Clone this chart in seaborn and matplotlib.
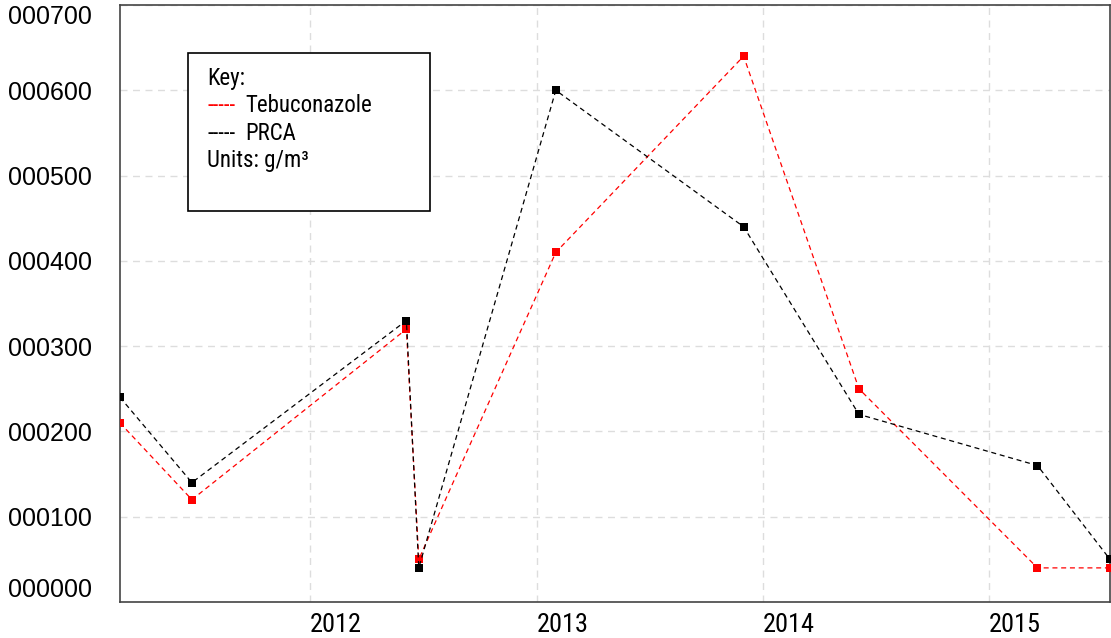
import matplotlib
matplotlib.use("Agg")
import matplotlib.pyplot as plt
import matplotlib.transforms as mtransforms
import seaborn as sns
import pandas as pd
from matplotlib import font_manager
from matplotlib.font_manager import FontProperties
from matplotlib.patches import Rectangle

dates = ["2011-03-01", "2011-06-25", "2012-06-05", "2012-06-25", "2013-02-01",
         "2013-12-01", "2014-06-05", "2015-03-20", "2015-07-15"]
tebuconazole = [210, 120, 320, 50, 410, 640, 250, 40, 40]
prca = [240, 140, 330, 40, 600, 440, 220, 160, 50]
y_ticks = [0, 100, 200, 300, 400, 500, 600, 700]
y_labels = ["000000", "000100", "000200", "000300", "000400", "000500", "000600", "000700"]
x_ticks = ["2012-01-01", "2013-01-01", "2014-01-01", "2015-01-01"]
x_labels = ["2012", "2013", "2014", "2015"]

# look for a narrow sans font (the reference uses an Arial-Narrow-like face)
narrow_fp = None
preferred = ["Liberation Sans Narrow", "Arial Narrow", "Roboto Condensed", "Open Sans Condensed",
             "DejaVu Sans Condensed", "Noto Sans Condensed"]
flist = font_manager.fontManager.ttflist
for p in preferred:
    for f in flist:
        if f.name == p and f.weight in (400, "normal", "regular") and f.style == "normal":
            narrow_fp = f.fname
            break
    if narrow_fp:
        break
if narrow_fp is None:
    for f in flist:
        if str(f.stretch) in ("condensed", "semi-condensed") and f.style == "normal" \
                and f.weight in (400, "normal") and "Mono" not in f.name and "Serif" not in f.name:
            narrow_fp = f.fname
            break

def nfont(size):
    if narrow_fp:
        return FontProperties(fname=narrow_fp, size=size)
    return FontProperties(family=["Liberation Sans", "DejaVu Sans"], size=size * 0.85)

sns.set_style("white")
plt.rcParams["font.family"] = ["Liberation Sans", "DejaVu Sans"]
plt.rcParams["text.color"] = "black"
plt.rcParams["xtick.color"] = "black"
plt.rcParams["ytick.color"] = "black"

df = pd.DataFrame({"date": pd.to_datetime(dates), "Tebuconazole": tebuconazole, "PRCA": prca})

fig = plt.figure(figsize=(11.11, 6.38), dpi=100)
ax = fig.add_axes([120 / 1111, 1 - 602 / 638, 990 / 1111, 597 / 638])

sns.lineplot(data=df, x="date", y="Tebuconazole", ax=ax, color="red", linestyle=(0, (4, 3)),
             linewidth=0.9, marker="s", markersize=6, markeredgewidth=0, zorder=3)
sns.lineplot(data=df, x="date", y="PRCA", ax=ax, color="black", linestyle=(0, (4, 3)),
             linewidth=0.9, marker="s", markersize=6, markeredgewidth=0, zorder=4)

ax.set_xlim(df["date"].iloc[0], df["date"].iloc[-1])
ax.set_ylim(0, 700)
ax.set_xlabel("")
ax.set_ylabel("")

ax.set_yticks(y_ticks)
ax.set_yticklabels(y_labels, fontsize=18, color="black")
ax.set_xticks(pd.to_datetime(x_ticks))
ax.set_xticklabels(x_labels, color="black")
for t in ax.get_xticklabels():
    t.set_fontproperties(nfont(19))
    t.set_ha("left")
    t.set_transform(t.get_transform() + mtransforms.ScaledTranslation(-13 / 100, 0, fig.dpi_scale_trans))
ytl = ax.get_yticklabels()
ytl[0].set_va("bottom")
ytl[0].set_transform(ytl[0].get_transform() + mtransforms.ScaledTranslation(0, 4 / 100, fig.dpi_scale_trans))
ytl[-1].set_va("top")
ytl[-1].set_transform(ytl[-1].get_transform() + mtransforms.ScaledTranslation(0, -3 / 100, fig.dpi_scale_trans))
ax.tick_params(axis="both", length=0)
ax.tick_params(axis="y", pad=20)
ax.tick_params(axis="x", pad=8)

ax.grid(True, color="#dddddd", linestyle=(0, (5, 4)), linewidth=1)
for s in ax.spines.values():
    s.set_color("#444444")
    s.set_linewidth(1.2)

# Key box
bx0, by0 = (188 - 120) / 990, (602 - 211) / 597
bw, bh = (430 - 188) / 990, (211 - 53) / 597
ax.add_patch(Rectangle((bx0, by0), bw, bh, transform=ax.transAxes, facecolor="white",
                       edgecolor="black", linewidth=1.2, zorder=5))
tx = (207 - 120) / 990
tx2 = (245 - 120) / 990
def ypos(py):
    return (602 - py) / 597
fs = 16.5
ax.text(tx, ypos(79), "Key:", transform=ax.transAxes, fontproperties=nfont(fs), va="center", zorder=6)
ax.text(tx, ypos(106), "-----", transform=ax.transAxes, fontproperties=nfont(fs),
        color="red", va="center", zorder=6)
ax.text(tx2, ypos(106), "Tebuconazole", transform=ax.transAxes, fontproperties=nfont(fs),
        va="center", zorder=6)
ax.text(tx, ypos(133), "-----", transform=ax.transAxes, fontproperties=nfont(fs),
        color="black", va="center", zorder=6)
ax.text(tx2, ypos(133), "PRCA", transform=ax.transAxes, fontproperties=nfont(fs),
        va="center", zorder=6)
ax.text(tx, ypos(160), "Units: g/m³", transform=ax.transAxes, fontproperties=nfont(fs),
        va="center", zorder=6)

fig.savefig("out.png", dpi=100)
